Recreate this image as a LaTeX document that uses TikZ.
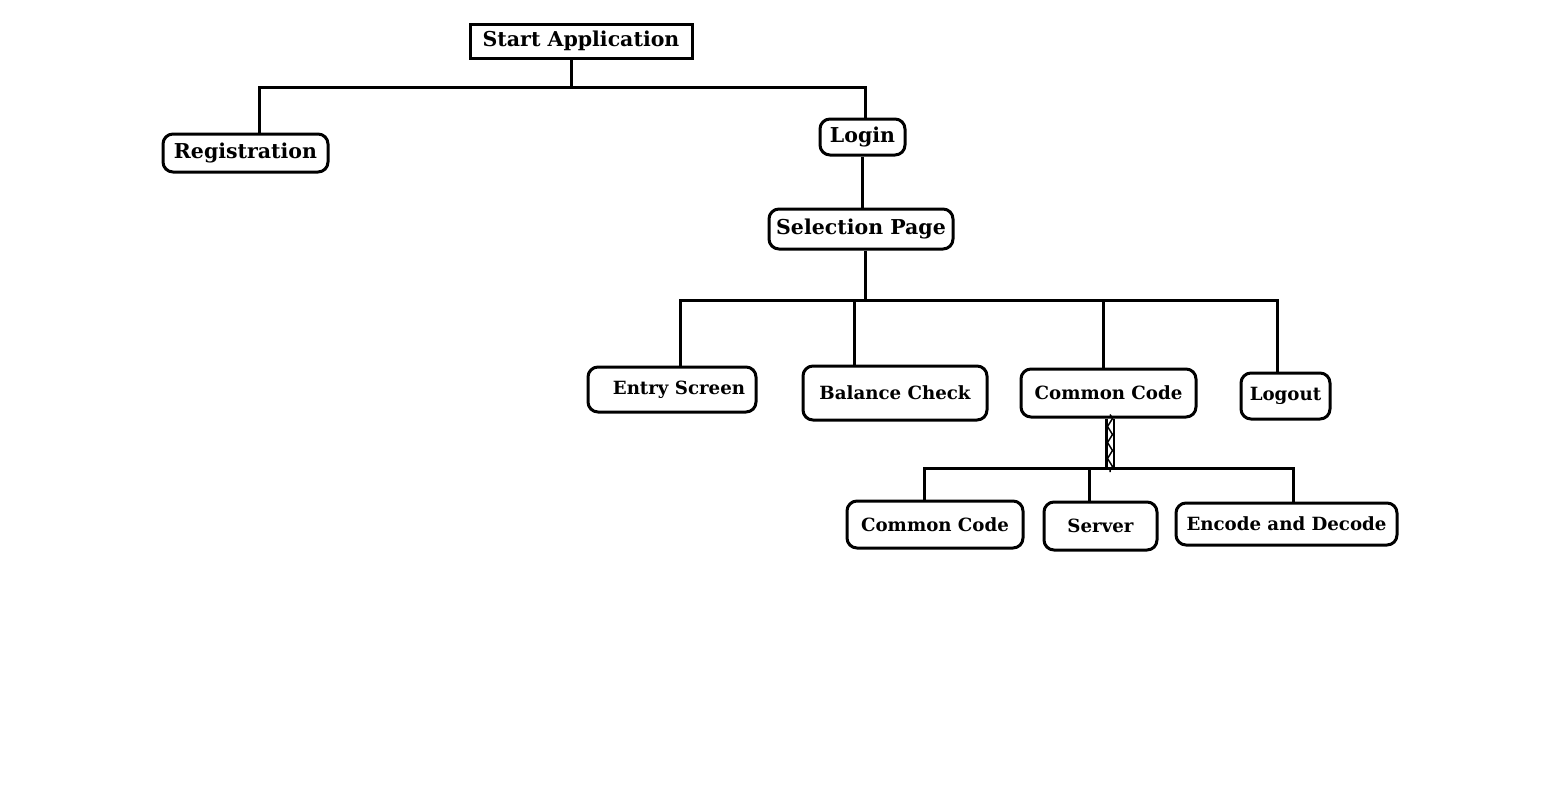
\documentclass[tikz,border=0pt]{standalone}
\usepackage{fontspec}
\setmainfont{DejaVu Serif}
\usetikzlibrary{decorations.pathmorphing}
\begin{document}
\begin{tikzpicture}[x=1pt,y=-1pt,
  sbox/.style={draw, line width=3pt, inner sep=0pt, font=\bfseries\fontsize{20.5}{24}\selectfont},
  rbox/.style={sbox, rounded corners=10pt},
  lbox/.style={rbox, font=\bfseries\fontsize{18.2}{22}\selectfont},
  wire/.style={line width=3pt}]
\useasboundingbox (0,0) rectangle (1547,806);
\fill[white] (0,0) rectangle (1547,806);
% nodes
\node[sbox, minimum width=222, minimum height=34] (start) at (581,41) {Start Application};
\node[rbox, minimum width=165, minimum height=38] (reg) at (245.5,153) {Registration};
\node[rbox, minimum width=85, minimum height=36] (login) at (862.5,137) {Login};
\node[rbox, minimum width=184, minimum height=40] (sel) at (861,229) {Selection Page};
\node[lbox, minimum width=168, minimum height=45] (entry) at (672,389.5) {\hspace*{14pt}Entry Screen};
\node[lbox, minimum width=184, minimum height=54] (bal) at (895,393) {Balance Check};
\node[lbox, minimum width=175, minimum height=48] (cc1) at (1108.5,393) {Common Code};
\node[lbox, minimum width=89, minimum height=46] (logout) at (1285.5,396) {Logout};
\node[lbox, minimum width=176, minimum height=47] (cc2) at (935,524.5) {Common Code};
\node[lbox, minimum width=113, minimum height=48] (server) at (1100.5,526) {Server};
\node[lbox, minimum width=221, minimum height=42] (enc) at (1286.5,524) {Encode and Decode};
% junction coordinates
\coordinate (j1) at (571,87);
\coordinate (jl) at (259,87);
\coordinate (jr) at (865,87);
\coordinate (j2) at (865,300);
\coordinate (j2a) at (680,300);
\coordinate (j2b) at (854,300);
\coordinate (j2c) at (1103,300);
\coordinate (j2d) at (1277,300);
\coordinate (j3) at (1110,468);
\coordinate (j3a) at (924,468);
\coordinate (j3b) at (1089,468);
\coordinate (j3c) at (1293,468);
% connectors
\draw[wire] (j1 |- start.south) -- (j1);
\draw[wire] (jl |- reg.north) -- (jl) -- (jr) -- (jr |- login.north);
\draw[wire] (login.south) -- (login.south |- sel.north);
\draw[wire] (j2 |- sel.south) -- (j2);
\draw[wire] (j2a |- entry.north) -- (j2a) -- (j2d) -- (j2d |- logout.north);
\draw[wire] (j2b) -- (j2b |- bal.north);
\draw[wire] (j2c) -- (j2c |- cc1.north);
\draw[line width=2.5pt, double, double distance=5pt] (j3 |- cc1.south) -- (j3);
\draw[line width=1.5pt, decorate, decoration={zigzag, segment length=16pt, amplitude=2.5pt}] ([yshift=4]j3 |- cc1.south) -- ([yshift=-4]j3);
\draw[wire] (j3a |- cc2.north) -- (j3a) -- (j3c) -- (j3c |- enc.north);
\draw[wire] (j3b) -- (j3b |- server.north);
\end{tikzpicture}
\end{document}
